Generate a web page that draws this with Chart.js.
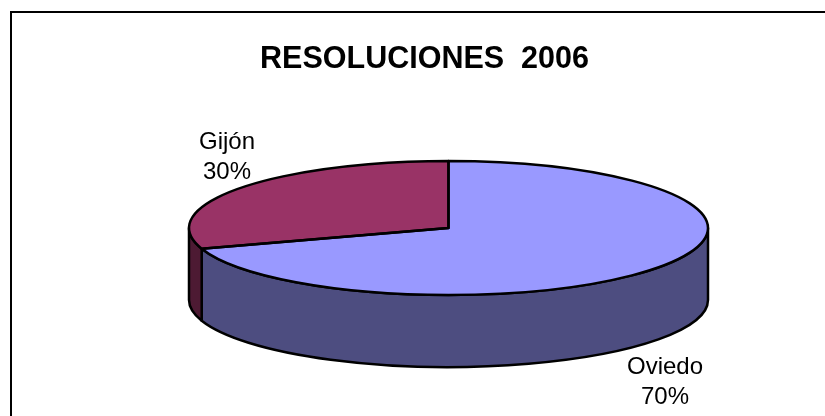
<!DOCTYPE html>
<html>
<head>
<meta charset="utf-8">
<title>Resoluciones 2006</title>
<script src="https://cdn.jsdelivr.net/npm/chart.js@4"></script>
<style>
  html, body { margin: 0; padding: 0; background: #fff; }
  canvas { display: block; }
</style>
</head>
<body>
<canvas id="pieChart" width="825" height="416"></canvas>
<script>
const categories = ['Oviedo', 'Gijón'];
const values = [70, 30];
const topColors = ['#9999FF', '#993366'];
const sideColors = ['#4D4D80', '#4D1A33'];
const chartTitle = 'RESOLUCIONES  2006';

// Geometria de la tarta en perspectiva
const pie3d = { cx: 448.5, cy: 228, rx: 259.5, ry: 67, depth: 72 };
const labelAnchors = [{ x: 665, y: 367 }, { x: 227, y: 142 }];

const tiltPlugin = {
    id: 'tilt',
    beforeDraw(chart) {
        const ctx = chart.ctx;
        // Marco: solo se ve el lado izquierdo y el superior
        ctx.save();
        ctx.strokeStyle = '#000';
        ctx.lineWidth = 2;
        ctx.beginPath();
        ctx.moveTo(11, 416);
        ctx.lineTo(11, 12);
        ctx.lineTo(825, 12);
        ctx.stroke();
        ctx.restore();
    },
    beforeDatasetsDraw(chart) {
        const ctx = chart.ctx;
        const arcs = chart.getDatasetMeta(0).data;
        const { cx, cy, rx, ry, depth } = pie3d;

        // Pared lateral: solo la mitad frontal de cada sector
        ctx.save();
        ctx.strokeStyle = '#000';
        ctx.lineWidth = 2.5;
        ctx.lineJoin = 'round';
        arcs.forEach((arc, i) => {
            const a = Math.max(arc.startAngle, 0);
            const b = Math.min(arc.endAngle, Math.PI);
            if (b <= a) return;
            ctx.beginPath();
            ctx.ellipse(cx, cy, rx, ry, 0, a, b);
            ctx.lineTo(cx + rx * Math.cos(b), cy + ry * Math.sin(b) + depth);
            ctx.ellipse(cx, cy + depth, rx, ry, 0, b, a, true);
            ctx.closePath();
            ctx.fillStyle = sideColors[i];
            ctx.fill();
            ctx.stroke();
        });
        ctx.restore();

        // La cara superior la dibuja Chart.js, aplastada en vertical
        const first = arcs[0];
        ctx.save();
        ctx.translate(cx, cy);
        ctx.scale(rx / first.outerRadius, ry / first.outerRadius);
        ctx.translate(-first.x, -first.y);
    },
    afterDatasetsDraw(chart) {
        const ctx = chart.ctx;
        ctx.restore();

        const arcs = chart.getDatasetMeta(0).data;
        const { cx, cy, rx, ry } = pie3d;
        ctx.save();
        ctx.strokeStyle = '#000';
        ctx.lineWidth = 2.5;
        ctx.lineJoin = 'round';
        arcs.forEach((arc) => {
            ctx.beginPath();
            ctx.moveTo(cx, cy);
            ctx.ellipse(cx, cy, rx, ry, 0, arc.startAngle, arc.endAngle);
            ctx.closePath();
            ctx.stroke();
        });

        // Etiquetas de categoria y porcentaje
        const total = values.reduce((sum, v) => sum + v, 0);
        ctx.fillStyle = '#000';
        ctx.font = '24px "Liberation Sans", Arial, sans-serif';
        ctx.textAlign = 'center';
        ctx.textBaseline = 'middle';
        categories.forEach((name, i) => {
            const pos = labelAnchors[i];
            ctx.fillText(name, pos.x, pos.y);
            ctx.fillText(Math.round(values[i] / total * 100) + '%', pos.x, pos.y + 30);
        });
        ctx.restore();
    }
};

new Chart(document.getElementById('pieChart'), {
    type: 'pie',
    data: {
        labels: categories,
        datasets: [{
            data: values,
            backgroundColor: topColors,
            borderWidth: 0,
            clip: false
        }]
    },
    options: {
        responsive: false,
        animation: false,
        layout: { padding: { left: 24 } },
        plugins: {
            legend: { display: false },
            tooltip: { enabled: false },
            title: {
                display: true,
                text: chartTitle,
                color: '#000',
                font: { family: '"Liberation Sans", Arial, sans-serif', size: 30.5, weight: 'bold' },
                padding: { top: 41, bottom: 10 }
            }
        }
    },
    plugins: [tiltPlugin]
});
</script>
</body>
</html>
